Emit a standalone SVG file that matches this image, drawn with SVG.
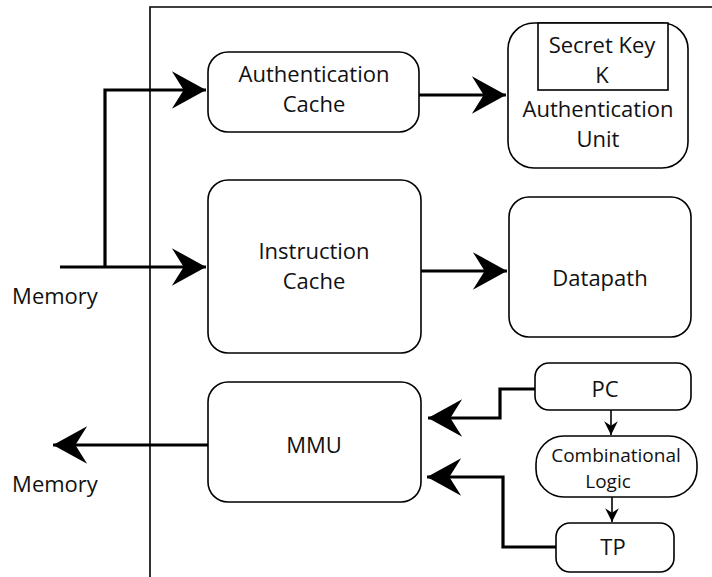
<svg xmlns="http://www.w3.org/2000/svg" width="712" height="577" viewBox="0 0 712 577">
<defs>
<marker id="big" markerUnits="userSpaceOnUse" markerWidth="40" markerHeight="40" viewBox="-30 -17 32 34" refX="0" refY="0" orient="auto">
<path d="M0,0 L-29,-16 L-19,0 L-29,16 Z" fill="#000"/>
</marker>
<marker id="small" markerUnits="userSpaceOnUse" markerWidth="16" markerHeight="16" viewBox="-13 -7 14 14" refX="0" refY="0" orient="auto">
<path d="M0,0 L-12,-6 L-8,0 L-12,6 Z" fill="#000"/>
</marker>
</defs>
<style>
.box{fill:#fff;stroke:#000;stroke-width:1.6}
.t{font-family:"Open Sans","Noto Sans",sans-serif;font-size:22px;fill:#111;text-anchor:middle}
.s{font-size:19px}
.frame{fill:none;stroke:#000;stroke-width:1.6}
.thick{fill:none;stroke:#000;stroke-width:3.2;stroke-linejoin:miter}
.thin{fill:none;stroke:#000;stroke-width:1.6}
</style>
<rect width="712" height="577" fill="#fff"/>
<g id="frame">
<path class="frame" d="M150,577 V7 H712"/>
</g>
<g id="connectors">
<path class="thick" d="M60,267 H206" marker-end="url(#big)"/>
<path class="thick" d="M105,267 V90 H206" marker-end="url(#big)"/>
<path class="thick" d="M419,95 H506" marker-end="url(#big)"/>
<path class="thick" d="M421,271 H507" marker-end="url(#big)"/>
<path class="thick" d="M208,445 H53" marker-end="url(#big)"/>
<path class="thick" d="M535,389 H500 V418 H428" marker-end="url(#big)"/>
<path class="thick" d="M556,547 H503 V477 H427" marker-end="url(#big)"/>
<path class="thin" d="M611,410 V435" marker-end="url(#small)"/>
<path class="thin" d="M612,497 V522" marker-end="url(#small)"/>
</g>
<g id="memory-in">
<text class="t" x="55" y="304">Memory</text>
</g>
<g id="memory-out">
<text class="t" x="55" y="492">Memory</text>
</g>
<g id="auth-cache">
<rect class="box" x="208" y="52" width="211" height="80" rx="20"/>
<text class="t" x="314" y="82">Authentication</text>
<text class="t" x="314" y="112">Cache</text>
</g>
<g id="auth-unit">
<rect class="box" x="508" y="23" width="180" height="145" rx="26"/>
<rect class="box" x="538" y="23" width="130" height="67" rx="0"/>
<text class="t" x="602" y="53">Secret Key</text>
<text class="t" x="602" y="83">K</text>
<text class="t" x="598" y="117">Authentication</text>
<text class="t" x="598" y="147">Unit</text>
</g>
<g id="instruction-cache">
<rect class="box" x="208" y="180" width="213" height="173" rx="20"/>
<text class="t" x="314" y="259">Instruction</text>
<text class="t" x="314" y="289">Cache</text>
</g>
<g id="datapath">
<rect class="box" x="509" y="197" width="182" height="140" rx="20"/>
<text class="t" x="600" y="286">Datapath</text>
</g>
<g id="mmu">
<rect class="box" x="208" y="382" width="213" height="120" rx="20"/>
<text class="t" x="314" y="453">MMU</text>
</g>
<g id="pc">
<rect class="box" x="535" y="363" width="156" height="47" rx="14"/>
<text class="t" x="605" y="397">PC</text>
</g>
<g id="combinational-logic">
<rect class="box" x="536" y="436" width="161" height="61" rx="28"/>
<text class="t s" x="616" y="462">Combinational</text>
<text class="t s" x="608" y="488">Logic</text>
</g>
<g id="tp">
<rect class="box" x="556" y="523" width="118" height="49" rx="14"/>
<text class="t" x="613" y="555">TP</text>
</g>
</svg>
